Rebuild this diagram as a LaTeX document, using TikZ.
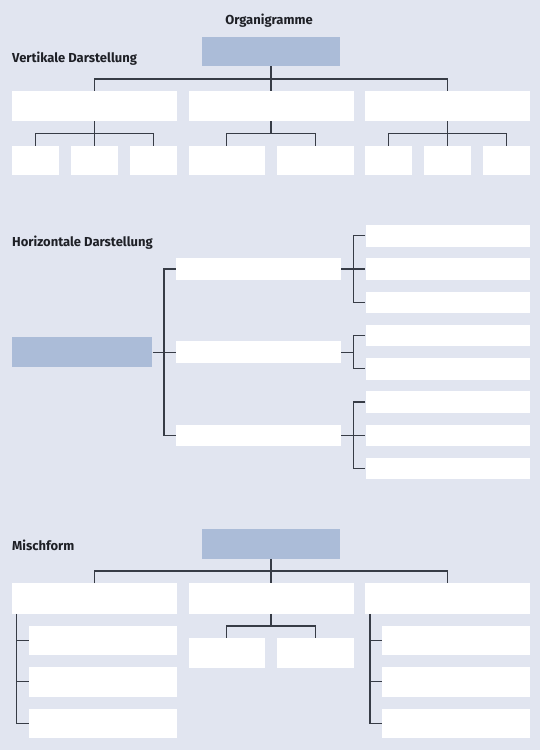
\documentclass[tikz,border=0pt]{standalone}
\usepackage{fontspec}
\setmainfont{Fira Sans}
\definecolor{bgc}{RGB}{225,229,240}
\definecolor{bluec}{RGB}{171,188,216}
\definecolor{linec}{RGB}{55,60,70}
\definecolor{txtc}{RGB}{30,32,38}
\begin{document}
\begin{tikzpicture}[x=1pt,y=-1pt,
  wbox/.style={fill=white, draw=none, inner sep=0pt},
  bluebox/.style={fill=bluec, draw=none, inner sep=0pt, minimum width=138.6pt, minimum height=29.5pt},
  lvone/.style={wbox, minimum width=165pt, minimum height=30.5pt},
  smallbox/.style={wbox, minimum width=47pt, minimum height=29.6pt},
  midbox/.style={wbox, minimum width=76.5pt, minimum height=29.6pt},
  hmid/.style={wbox, minimum width=165pt, minimum height=21.5pt},
  hright/.style={wbox, minimum width=164.5pt, minimum height=21.5pt},
  mchild/.style={wbox, minimum width=148.3pt, minimum height=29.5pt},
  conn/.style={draw=linec, line width=1.2pt},
  lbl/.style={inner sep=0pt, text=txtc, font=\fontsize{13}{15}\selectfont\bfseries}]
\fill[bgc] (0,0) rectangle (540,750);
\useasboundingbox (0,0) rectangle (540,750);

% titles
\node[lbl, anchor=base] (title) at (269,24) {Organigramme};
\node[lbl, anchor=base west] (tv) at (12,62) {Vertikale Darstellung};
\node[lbl, anchor=base west] (th) at (12,246) {Horizontale Darstellung};
\node[lbl, anchor=base west] (tm) at (12,550) {Mischform};

% ---------- Vertikale Darstellung ----------
\node[bluebox] (vroot) at (271,51.3) {};
\node[lvone] (v1) at (94.5,106) {};
\node[lvone] (v2) at (271,106) {};
\node[lvone] (v3) at (447.5,106) {};
\coordinate (vbus) at (0,79);
\draw[conn] (vroot.south) -- (v2.north);
\draw[conn] (v1.north) -- (v1.north |- vbus) -- (v3.north |- vbus) -- (v3.north);

\node[smallbox] (v11) at (35.5,160.5) {};
\node[smallbox] (v12) at (94.5,160.5) {};
\node[smallbox] (v13) at (153.5,160.5) {};
\node[midbox] (v21) at (226.75,160.5) {};
\node[midbox] (v22) at (315.25,160.5) {};
\node[smallbox] (v31) at (388.5,160.5) {};
\node[smallbox] (v32) at (447.5,160.5) {};
\node[smallbox] (v33) at (506.5,160.5) {};
\coordinate (vbus2) at (0,133.3);
\draw[conn] (v1.south) -- (v12.north);
\draw[conn] (v11.north) -- (v11.north |- vbus2) -- (v13.north |- vbus2) -- (v13.north);
\draw[conn] (v2.south) -- (v2.south |- vbus2);
\draw[conn] (v21.north) -- (v21.north |- vbus2) -- (v22.north |- vbus2) -- (v22.north);
\draw[conn] (v3.south) -- (v32.north);
\draw[conn] (v31.north) -- (v31.north |- vbus2) -- (v33.north |- vbus2) -- (v33.north);

% ---------- Horizontale Darstellung ----------
\node[bluebox, minimum width=140.6pt, minimum height=29.7pt] (hroot) at (82,352.1) {};
\node[hmid] (hm1) at (258.5,269) {};
\node[hmid] (hm2) at (258.5,352.1) {};
\node[hmid] (hm3) at (258.5,435.25) {};
\coordinate (ht) at (164,0);
\draw[conn] (hroot.east) -- (hm2.west);
\draw[conn] (hm1.west) -- (hm1.west -| ht) -- (hm3.west -| ht) -- (hm3.west);

\node[hright] (r1) at (447.75,235.75) {};
\node[hright] (r2) at (447.75,269) {};
\node[hright] (r3) at (447.75,302.25) {};
\node[hright] (r4) at (447.75,335.5) {};
\node[hright] (r5) at (447.75,368.75) {};
\node[hright] (r6) at (447.75,402) {};
\node[hright] (r7) at (447.75,435.25) {};
\node[hright] (r8) at (447.75,468.5) {};
\coordinate (rt) at (353.3,0);
\draw[conn] (hm1.east) -- (r2.west);
\draw[conn] (r1.west) -- (r1.west -| rt) -- (r3.west -| rt) -- (r3.west);
\draw[conn] (hm2.east) -- (hm2.east -| rt);
\draw[conn] (r4.west) -- (r4.west -| rt) -- (r5.west -| rt) -- (r5.west);
\draw[conn] (hm3.east) -- (r7.west);
\draw[conn] (r6.west) -- (r6.west -| rt) -- (r8.west -| rt) -- (r8.west);

% ---------- Mischform ----------
\node[bluebox] (mroot) at (271,544) {};
\node[lvone, minimum height=30.4pt] (m1) at (94.5,598.5) {};
\node[lvone, minimum height=30.4pt] (m2) at (271,598.5) {};
\node[lvone, minimum height=30.4pt] (m3) at (447.5,598.5) {};
\coordinate (mbus) at (0,571);
\draw[conn] (mroot.south) -- (m2.north);
\draw[conn] (m1.north) -- (m1.north |- mbus) -- (m3.north |- mbus) -- (m3.north);

\node[midbox] (m21) at (226.75,652.9) {};
\node[midbox] (m22) at (315.25,652.9) {};
\coordinate (mbus2) at (0,626);
\draw[conn] (m2.south) -- (m2.south |- mbus2);
\draw[conn] (m21.north) -- (m21.north |- mbus2) -- (m22.north |- mbus2) -- (m22.north);

\node[mchild] (l1) at (103.15,640.4) {};
\node[mchild] (l2) at (103.15,681.8) {};
\node[mchild] (l3) at (103.15,723.6) {};
\coordinate (lt) at (16.7,0);
\draw[conn] (m1.south -| lt) -- (l3.west -| lt) -- (l3.west);
\draw[conn] (l1.west) -- (l1.west -| lt);
\draw[conn] (l2.west) -- (l2.west -| lt);

\node[mchild, minimum width=148pt] (q1) at (456,640.4) {};
\node[mchild, minimum width=148pt] (q2) at (456,681.8) {};
\node[mchild, minimum width=148pt] (q3) at (456,723.6) {};
\coordinate (qt) at (370,0);
\draw[conn] (m3.south -| qt) -- (q3.west -| qt) -- (q3.west);
\draw[conn] (q1.west) -- (q1.west -| qt);
\draw[conn] (q2.west) -- (q2.west -| qt);
\end{tikzpicture}
\end{document}
